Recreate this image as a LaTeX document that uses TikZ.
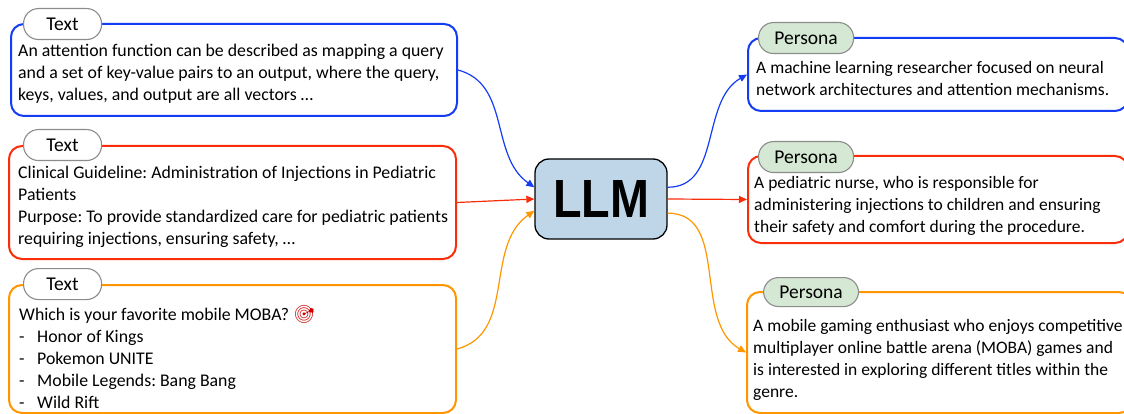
\documentclass[tikz,border=0pt]{standalone}
\usepackage{fontspec}
\setmainfont{Carlito}
\newfontfamily\llmfont{Liberation Sans}
\newfontfamily\emojifont{Noto Emoji}
\usetikzlibrary{arrows.meta}
\definecolor{cblue}{RGB}{20,60,245}
\definecolor{cred}{RGB}{250,45,10}
\definecolor{corange}{RGB}{255,150,0}
\definecolor{llmfill}{RGB}{190,214,232}
\definecolor{pfill}{RGB}{213,232,212}
\definecolor{tabgray}{RGB}{140,140,140}
\frenchspacing
\tikzset{
 frame/.style={draw=#1, line width=2pt, rounded corners=13pt, fill=white, inner sep=0pt, anchor=north west},
 tabtext/.style={draw=tabgray, line width=1.1pt, fill=white, rounded corners=15pt, minimum height=31pt, inner sep=0pt, font=\fontsize{19.5}{22}\selectfont, anchor=north west},
 ptab/.style={tabtext, fill=pfill},
 body/.style={align=left, anchor=west, inner sep=0pt, font=\fontsize{17.5}{22}\selectfont, text=black},
 lbody/.style={body, font=\fontsize{17.8}{22}\selectfont},
 conn/.style={draw=#1, line width=1.2pt, -{Triangle[length=8pt,width=7pt]}},
}
\begin{document}
\begin{tikzpicture}[x=1pt,y=1pt]
\useasboundingbox (0,0) rectangle (1124,-414);
% left frames
\node[frame=cblue, minimum width=446pt, minimum height=92pt] (t1) at (10,-23) {};
\node[frame=cred, minimum width=447pt, minimum height=113pt] (t2) at (8,-145) {};
\node[frame=corange, minimum width=447pt, minimum height=128pt] (t3) at (8,-284) {};
% right frames
\node[frame=cblue, minimum width=380pt, minimum height=73pt] (p1) at (747,-37) {};
\node[frame=cred, minimum width=380pt, minimum height=87pt] (p2) at (747,-155) {};
\node[frame=corange, minimum width=385pt, minimum height=121pt] (p3) at (746,-291) {};
% tabs
\node[tabtext, minimum width=78pt] (tab1) at (23,-8) {Text};
\node[tabtext, minimum width=78pt] (tab2) at (23,-129) {Text};
\node[tabtext, minimum width=78pt] (tab3) at (23,-268) {Text};
\node[ptab, minimum width=95pt] (ptab1) at (758,-22) {Persona};
\node[ptab, minimum width=95pt] (ptab2) at (758,-141) {Persona};
\node[ptab, minimum width=95pt, minimum height=29pt] (ptab3) at (763,-277) {Persona};
% texts
\node[lbody] (b1) at (18,-74) {An attention function can be described as mapping a query\\and a set of key-value pairs to an output, where the query,\\keys, values, and output are all vectors \dots};
\node[lbody] (b2) at (18,-207) {Clinical Guideline: Administration of Injections in Pediatric\\Patients\\Purpose: To provide standardized care for pediatric patients\\requiring injections, ensuring safety, \dots};
\node[lbody] (b3) at (19,-357) {Which is your favorite mobile MOBA? {\emojifont\textcolor{red!80!black}{🎯}}\\\makebox[18pt][l]{-}Honor of Kings\\\makebox[18pt][l]{-}Pokemon UNITE\\\makebox[18pt][l]{-}Mobile Legends: Bang Bang\\\makebox[18pt][l]{-}Wild Rift};
\node[body] (q1) at (756,-78.5) {A machine learning researcher focused on neural\\network architectures and attention mechanisms.};
\node[body] (q2) at (754,-206) {A pediatric nurse, who is responsible for\\administering injections to children and ensuring\\their safety and comfort during the procedure.};
\node[body] (q3) at (753,-359.5) {A mobile gaming enthusiast who enjoys competitive\\multiplayer online battle arena (MOBA) games and\\is interested in exploring different titles within the\\genre.};
% LLM
\node[draw=black, line width=1.3pt, fill=llmfill, rounded corners=14pt, minimum width=132pt, minimum height=80pt, inner sep=0pt, font=\llmfont\bfseries\fontsize{52}{52}\selectfont] (llm) at (601,-199) {\resizebox{96pt}{37pt}{LLM}};
% connectors
\draw[conn=cblue] (t1.east) to[out=-15,in=145] (llm.170);
\draw[conn=cred] (t2.east) -- (llm.west);
\draw[conn=corange] (t3.east) to[out=15,in=-145] (llm.190);
\draw[conn=cblue] (llm.10) to[out=0,in=210] (p1.west);
\draw[conn=cred] (llm.east) -- (p2.west);
\draw[conn=corange] (llm.-12) to[out=0,in=150] (p3.west);
\end{tikzpicture}
\end{document}
